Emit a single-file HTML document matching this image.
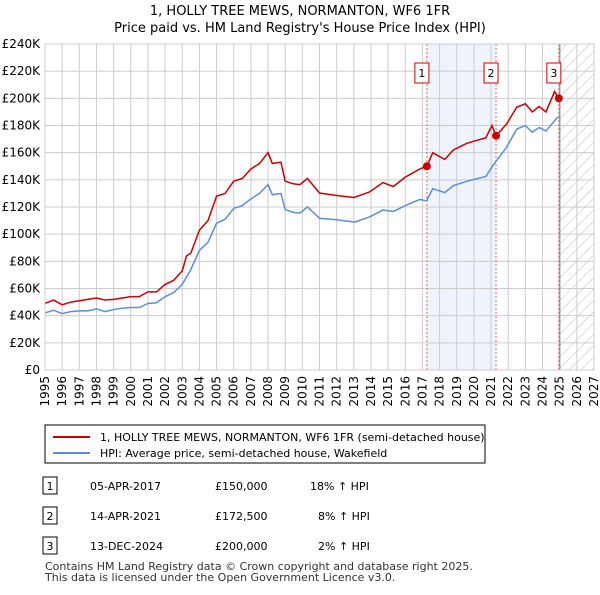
<!DOCTYPE html>
<html><head><meta charset="utf-8"><style>
body{margin:0;background:#fff;font-family:"Liberation Sans","DejaVu Sans",sans-serif;}
svg text{font-family:"DejaVu Sans","Liberation Sans",sans-serif;}
</style></head><body>
<svg id="c" width="600" height="590" xmlns="http://www.w3.org/2000/svg">
<defs><pattern id="hatch" patternUnits="userSpaceOnUse" width="8" height="8" patternTransform="rotate(45)"><line x1="0" y1="0" x2="0" y2="8" stroke="#bbb" stroke-width="1"/></pattern></defs>
<text x="300" y="15" text-anchor="middle" font-size="13">1, HOLLY TREE MEWS, NORMANTON, WF6 1FR</text>
<text x="300" y="32" text-anchor="middle" font-size="13">Price paid vs. HM Land Registry's House Price Index (HPI)</text>
<g id="plot"></g>
<rect x="45" y="425" width="440" height="38" fill="#fff" stroke="#000"/>
<line x1="53" y1="437" x2="90" y2="437" stroke="#cc0000" stroke-width="2"/>
<text x="100" y="441" font-size="11">1, HOLLY TREE MEWS, NORMANTON, WF6 1FR (semi-detached house)</text>
<line x1="53" y1="453" x2="90" y2="453" stroke="#5b8fd6" stroke-width="2"/>
<text x="100" y="457" font-size="11">HPI: Average price, semi-detached house, Wakefield</text>
<g font-size="11">
<rect x="43" y="477" width="14" height="17" fill="#fff" stroke="#000"/><text x="50" y="490" text-anchor="middle">1</text>
<text x="90" y="490">05-APR-2017</text><text x="215" y="490">£150,000</text><text x="310" y="490">18% ↑ HPI</text>
<rect x="43" y="507" width="14" height="17" fill="#fff" stroke="#000"/><text x="50" y="520" text-anchor="middle">2</text>
<text x="90" y="520">14-APR-2021</text><text x="215" y="520">£172,500</text><text x="318" y="520">8% ↑ HPI</text>
<rect x="43" y="537" width="14" height="17" fill="#fff" stroke="#000"/><text x="50" y="550" text-anchor="middle">3</text>
<text x="90" y="550">13-DEC-2024</text><text x="215" y="550">£200,000</text><text x="318" y="550">2% ↑ HPI</text>
</g>
<text x="45" y="570" font-size="11" fill="#333">Contains HM Land Registry data © Crown copyright and database right 2025.</text>
<text x="45" y="581" font-size="11" fill="#333">This data is licensed under the Open Government Licence v3.0.</text>
</svg>
<script>
const hpiYears=[1995,1995.5,1996,1996.5,1997,1997.5,1998,1998.5,1999,1999.5,2000,2000.5,2001,2001.5,2002,2002.5,2003,2003.5,2004,2004.5,2005,2005.5,2006,2006.5,2007,2007.5,2008,2008.25,2008.75,2009,2009.5,2009.86,2010.3,2011,2012,2013.06,2013.9,2014.7,2015.3,2016,2016.85,2017.24,2017.6,2018.3,2018.8,2019.6,2020.7,2021.1,2021.9,2022.5,2023,2023.4,2023.8,2024.2,2024.8,2025];
const hpiValues=[42,44,41.5,43,43.5,43.5,45,43,44.5,45.5,46,46,49,49.5,54,57,63,74,88,94,108,111,119,121,126,130,136.5,129,130,118,116,115.5,120,111.7,110.6,108.9,112.6,117.8,116.7,121,125.6,124.5,133.5,130.6,135.7,139,142.5,150.4,163.9,177.4,180,175,178.5,176,185,187];
const priceYears=[1995,1995.5,1996,1996.5,1997,1998,1998.5,1999,1999.5,2000,2000.5,2001,2001.5,2002,2002.5,2003,2003.25,2003.5,2004,2004.5,2005,2005.5,2006,2006.5,2007,2007.5,2008,2008.25,2008.75,2009,2009.5,2009.86,2010.3,2011,2012,2013,2013.9,2014.7,2015.3,2016,2016.85,2017.26,2017.6,2018.3,2018.8,2019.6,2020.7,2021.05,2021.29,2021.9,2022.5,2023,2023.4,2023.8,2024.2,2024.7,2024.95,2025.05];
const priceValues=[49,51.5,48,50,51,53,51.5,52,53,54,54,57.5,57.5,63,66,73,84,86,103,110,128,130,139,141,148,152,160,152,153,139,137,136.5,141,130.3,128.5,127,131,138,135,142,148,150,160,155,162,167,171,180,172.5,181,193.5,196,190,194,190,205,200,200];
const saleYears=[2017.26,2021.29,2024.95];
const saleValues=[150,172.5,200];
const saleLabels=["1","2","3"];
const yTicks=[0,20,40,60,80,100,120,140,160,180,200,220,240];
const xTicks=[1995,1996,1997,1998,1999,2000,2001,2002,2003,2004,2005,2006,2007,2008,2009,2010,2011,2012,2013,2014,2015,2016,2017,2018,2019,2020,2021,2022,2023,2024,2025,2026,2027];

const L=45,R=594,T=44,B=370;
const X=y=>L+(y-1995)/(2027-1995)*(R-L);
const Y=v=>B-v/240*(B-T);
const g=document.getElementById('plot');
const NS='http://www.w3.org/2000/svg';
function mk(t,a){const e=document.createElementNS(NS,t);for(const k in a)e.setAttribute(k,a[k]);g.appendChild(e);return e;}
let e;
e=mk('rect',{x:X(saleYears[0]),y:T,width:X(saleYears[1])-X(saleYears[0]),height:B-T,fill:'#eef3fc'});


e=mk('rect',{x:X(2025),y:T,width:R-X(2025),height:B-T,fill:'url(#hatch)'});


yTicks.forEach(v=>{
 e=mk('line',{x1:L,x2:R,y1:Y(v),y2:Y(v),stroke:'#ccc'});
 
 
 e=mk('text',{x:L-5,y:Y(v)+4,'text-anchor':'end','font-size':'12'});
 e.textContent=v===0?'£0':'£'+v+'K';
 
 
});
xTicks.forEach(yr=>{
 e=mk('line',{x1:X(yr),x2:X(yr),y1:T,y2:B,stroke:'#ccc'});
 
 
 e=mk('text',{x:0,y:0,'text-anchor':'end','font-size':'12',transform:`translate(${X(yr)+4},${B+6}) rotate(-90)`});
 e.textContent=yr;
 
 
});
e=mk('line',{x1:X(2025),x2:X(2025),y1:T,y2:B,stroke:'#999','stroke-width':1.5});


saleYears.forEach((yr,i)=>{
 e=mk('line',{x1:X(yr),x2:X(yr),y1:T,y2:B,stroke:'#e06666','stroke-dasharray':'2,2'});
 
 
});
e=mk('polyline',{points:hpiYears.map((y,i)=>X(y)+','+Y(hpiValues[i])).join(' '),fill:'none',stroke:'#5b8fd6','stroke-width':1.5});


e=mk('polyline',{points:priceYears.map((y,i)=>X(y)+','+Y(priceValues[i])).join(' '),fill:'none',stroke:'#cc0000','stroke-width':1.5});


saleYears.forEach((yr,i)=>{
 e=mk('circle',{cx:X(yr),cy:Y(saleValues[i]),r:4,fill:'#cc0000'});
 
 
 e=mk('rect',{x:X(yr)-12,y:63,width:14,height:20,fill:'#fff',stroke:'#cc0000'});
 
 
 e=mk('text',{x:X(yr)-5,y:77,'text-anchor':'middle','font-size':'11'});
 e.textContent=saleLabels[i];
 
 
});
e=mk('rect',{x:L,y:T,width:R-L,height:B-T,fill:'none',stroke:'#ccc'});


</script>
</body></html>
